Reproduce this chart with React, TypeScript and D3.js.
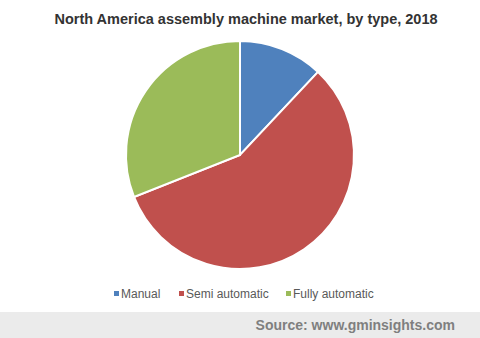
import React from "react";
import * as d3 from "d3";

const categories = ["Manual", "Semi automatic", "Fully automatic"];
const values = [12, 57, 31];
const colors = ["#4f81bd", "#c0504d", "#9bbb59"];

export default function App() {
  const W = 480, H = 338;
  const cx = 240, cy = 155, r = 114;
  const data = categories.map((c, i) => ({ name: c, value: values[i] }));
  const pie = d3.pie<any>().value((d) => d.value).sort(null);
  const arc = d3.arc<any>().innerRadius(0).outerRadius(r);
  const arcs = pie(data);
  const legendX = [114, 179, 286];
  return (
    <svg width={W} height={H} style={{ position: "absolute", left: 0, top: 0 }} fontFamily="Liberation Sans, Arial, sans-serif">
      <rect width={W} height={H} fill="#fff" />
      <text x={246} y={24} textAnchor="middle" fontSize={14.5} fontWeight="bold" fill="#333">
        North America assembly machine market, by type, 2018
      </text>
      <g transform={`translate(${cx},${cy})`}>
        {arcs.map((a, i) => (
          <path key={i} d={arc(a) as string} fill={colors[i]} stroke="#fff" strokeWidth={2} />
        ))}
      </g>
      {categories.map((c, i) => (
        <g key={c}>
          <rect x={legendX[i]} y={291} width={5} height={5} fill={colors[i]} />
          <text x={legendX[i] + 7} y={298} fontSize={12} fill="#595959">{c}</text>
        </g>
      ))}
      <rect x={0} y={312} width={W} height={26} fill="#ebebeb" />
      <text x={455} y={330} textAnchor="end" fontSize={14} fontWeight="bold" fill="#7f7f7f">
        Source: www.gminsights.com
      </text>
    </svg>
  );
}
